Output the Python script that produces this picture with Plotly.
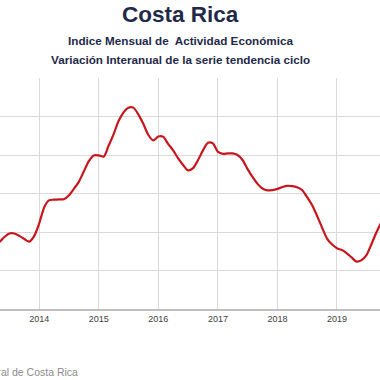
import plotly.graph_objects as go
import pandas as pd

# Monthly dates (Apr 2013 - Oct 2019)
dates = pd.date_range("2013-04-01", "2019-10-01", freq="MS")

# Variación interanual IMAE tendencia ciclo (%)
values = [
    1.66, 1.74, 1.87, 1.96, 1.96, 1.90, 1.82, 1.75, 1.90,            # Apr-Dec 2013
    2.23, 2.65, 2.82, 2.84, 2.85, 2.85, 2.95, 3.12, 3.31, 3.57, 3.84, 3.99,  # 2014
    3.99, 3.96, 4.23, 4.53, 4.87, 5.10, 5.23, 5.23, 5.05, 4.81, 4.52, 4.38,  # 2015
    4.48, 4.47, 4.29, 4.12, 3.92, 3.74, 3.60, 3.66, 3.87, 4.12, 4.32, 4.30,  # 2016
    4.08, 4.03, 4.04, 4.04, 4.00, 3.87, 3.64, 3.43, 3.25, 3.13, 3.08, 3.09,  # 2017
    3.12, 3.17, 3.20, 3.19, 3.16, 3.09, 2.91, 2.70, 2.42, 2.12, 1.83, 1.68,  # 2018
    1.58, 1.53, 1.45, 1.34, 1.23, 1.27, 1.40, 1.69, 2.00, 2.26,              # 2019
]

title_text = "Costa Rica"
subtitle1 = "Indice Mensual de  Actividad Económica"
subtitle2 = "Variación Interanual de la serie tendencia ciclo"
source_text = "Fuente: Banco Central de Costa Rica"

navy = "#1f2a4a"
title_cx = 180.5 / 380

fig = go.Figure()
fig.add_trace(go.Scatter(
    x=dates, y=values, mode="lines",
    line=dict(color="#c8161d", width=2.2, shape="spline", smoothing=0.8),
    hoverinfo="skip", showlegend=False,
))

fig.update_layout(
    width=380, height=380,
    margin=dict(l=0, r=0, t=78, b=71, autoexpand=False),
    paper_bgcolor="white", plot_bgcolor="white",
    font=dict(family="Liberation Sans, Arial, sans-serif"),
    xaxis=dict(
        type="date",
        range=["2013-05-05", "2019-09-22"],
        tick0="2014-01-01", dtick="M12", tickformat="%Y",
        showgrid=True, gridcolor="#d9d9d9", gridwidth=1,
        showline=True, linecolor="#bfbfbf", linewidth=2,
        ticks="", tickfont=dict(size=9, color="#404040"),
        zeroline=False, fixedrange=True, automargin=False,
    ),
    yaxis=dict(
        range=[0, 6], dtick=1,
        showgrid=True, gridcolor="#d9d9d9", gridwidth=1,
        showticklabels=False, zeroline=False, showline=False,
        fixedrange=True, automargin=False,
    ),
    annotations=[
        dict(text="<b>" + title_text + "</b>", x=title_cx, y=14, xref="paper", yref="paper",
             showarrow=False, font=dict(size=22.5, color=navy)),
        dict(text="<b>" + subtitle1 + "</b>", x=title_cx, y=40, xref="paper", yref="paper",
             showarrow=False, font=dict(size=11.7, color=navy)),
        dict(text="<b>" + subtitle2 + "</b>", x=title_cx, y=60, xref="paper", yref="paper",
             showarrow=False, font=dict(size=11.7, color=navy)),
        dict(text=source_text, x=80 / 380, y=372, xref="paper", yref="paper",
             xanchor="right", showarrow=False, font=dict(size=10.5, color="#8c8c8c")),
    ],
)

# convert pixel y positions of annotations into paper coordinates
plot_h = 380 - 78 - 71
for ann in fig.layout.annotations:
    py = ann.y
    ann.y = (380 - 71 - py) / plot_h
    ann.yanchor = "middle"

fig.write_html(
    "out.html",
    config={"displayModeBar": False},
    post_script="document.body.style.margin='0';document.body.style.overflow='hidden';",
)
